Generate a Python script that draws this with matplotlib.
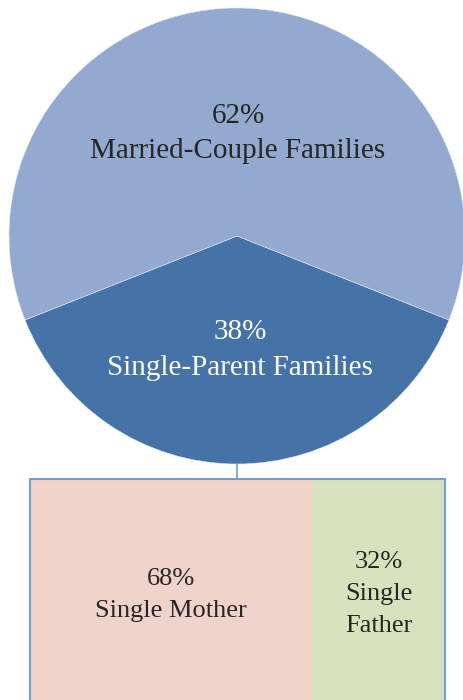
import matplotlib
matplotlib.use("Agg")
import matplotlib.pyplot as plt

# ---- data ----
family_types = ["Single-Parent Families", "Married-Couple Families"]
family_shares = [38, 62]
parent_types = ["Single Mother", "Single\nFather"]
parent_shares = [68, 32]

# ---- styles ----
pie_colors = ["#4572a7", "#94a9d0"]
box_colors = ["#efd3cb", "#d7e1bd"]
edge_blue = "#6e9fd6"
txt_dark = "#262626"
W, H = 464, 700
font = "Liberation Serif"

fig = plt.figure(figsize=(W / 100, H / 100), dpi=100)
ax = fig.add_axes([0, 0, 1, 1])

cx, cy, r = 237, H - 236, 228
half = family_shares[0] / sum(family_shares) * 360 / 2
wedges, _ = ax.pie(family_shares, colors=pie_colors, center=(cx, cy), radius=r,
                   startangle=270 - half, counterclock=True,
                   wedgeprops=dict(linewidth=0.4, edgecolor="#dfe6f2"))


def label(x, y_baselines, lines, size, color):
    for yb, t in zip(y_baselines, lines):
        ax.text(x, H - yb, t, ha="center", va="baseline", fontsize=size,
                family=font, color=color)


label(cx + 1, [123, 158], [f"{family_shares[1]}%", family_types[1]], 21, txt_dark)
label(cx + 3, [339, 375], [f"{family_shares[0]}%", family_types[0]], 21, "white")

# connector
box_top = H - 479
box_bottom = H - 712
ax.plot([cx, cx], [cy - r, box_top], color=edge_blue, lw=1.2, solid_capstyle="butt")

# treemap box
bx0, bx1 = 30, 445
bw = bx1 - bx0
total = sum(parent_shares)
left = bx0
lefts, widths = [], []
for s in parent_shares:
    w = s / total * bw
    lefts.append(left)
    widths.append(w)
    left += w
ax.bar(lefts, box_top - box_bottom, width=widths, bottom=box_bottom, align="edge",
       color=box_colors, linewidth=0)
ax.add_patch(plt.Rectangle((bx0, box_bottom), bw, box_top - box_bottom, fill=False,
                           edgecolor=edge_blue, lw=1.5))

baselines = [[585, 617], [568, 600, 632]]
for l, w, s, name, bl in zip(lefts, widths, parent_shares, parent_types, baselines):
    label(l + w / 2, bl, [f"{s}%"] + name.split("\n"), 19, txt_dark)

ax.set_xlim(0, W)
ax.set_ylim(0, H)
ax.set_aspect("equal", adjustable="box")
ax.axis("off")

fig.savefig("out.png", dpi=100)
